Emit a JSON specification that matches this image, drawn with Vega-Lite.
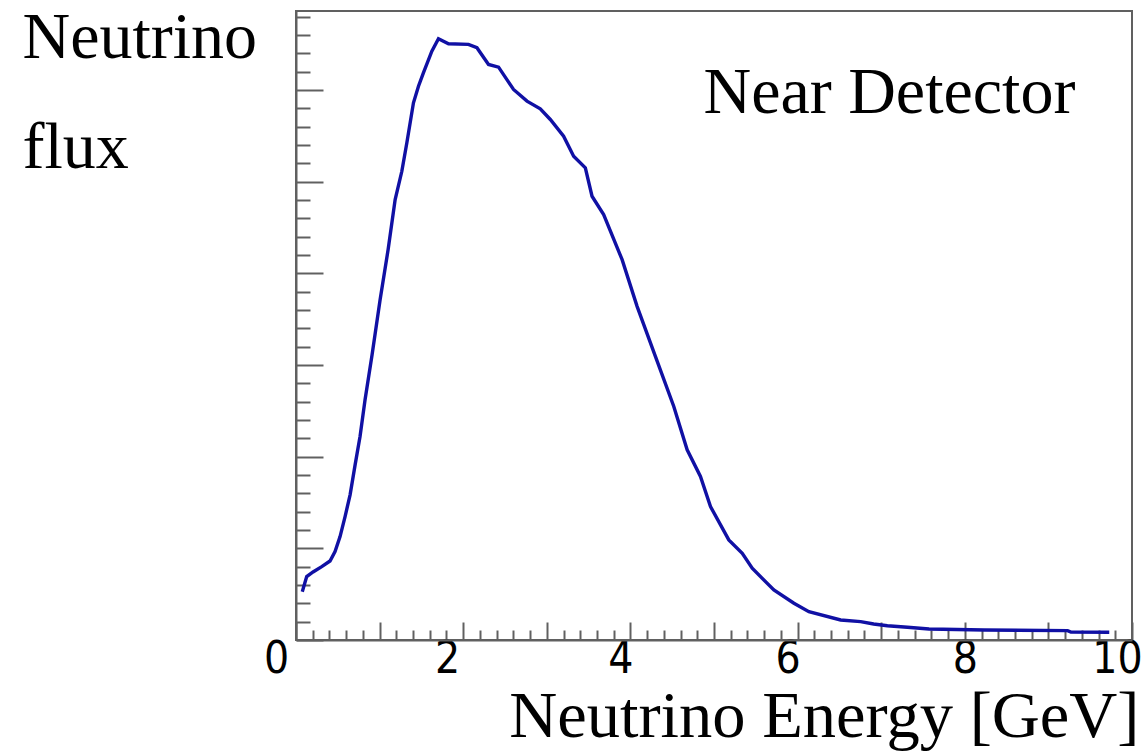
{
  "$schema": "https://vega.github.io/schema/vega-lite/v6.json",
  "width": 836,
  "height": 629,
  "autosize": "none",
  "padding": {"left": 296, "top": 11, "right": 16, "bottom": 115},
  "background": "white",
  "config": {"view": {"stroke": "#606060", "strokeWidth": 2}},
  "layer": [
    {
      "data": {"values": [
        {"energy": 0.075, "flux": 0.527},
        {"energy": 0.128, "flux": 0.691},
        {"energy": 0.204, "flux": 0.742},
        {"energy": 0.308, "flux": 0.800},
        {"energy": 0.407, "flux": 0.862},
        {"energy": 0.467, "flux": 0.964},
        {"energy": 0.527, "flux": 1.128},
        {"energy": 0.587, "flux": 1.346},
        {"energy": 0.647, "flux": 1.583},
        {"energy": 0.707, "flux": 1.910},
        {"energy": 0.766, "flux": 2.219},
        {"energy": 0.826, "flux": 2.620},
        {"energy": 0.910, "flux": 3.111},
        {"energy": 1.006, "flux": 3.712},
        {"energy": 1.102, "flux": 4.258},
        {"energy": 1.186, "flux": 4.803},
        {"energy": 1.266, "flux": 5.112},
        {"energy": 1.326, "flux": 5.423},
        {"energy": 1.405, "flux": 5.859},
        {"energy": 1.465, "flux": 6.040},
        {"energy": 1.525, "flux": 6.187},
        {"energy": 1.625, "flux": 6.422},
        {"energy": 1.704, "flux": 6.558},
        {"energy": 1.824, "flux": 6.503},
        {"energy": 2.063, "flux": 6.496},
        {"energy": 2.164, "flux": 6.460},
        {"energy": 2.303, "flux": 6.277},
        {"energy": 2.423, "flux": 6.248},
        {"energy": 2.602, "flux": 6.004},
        {"energy": 2.763, "flux": 5.877},
        {"energy": 2.922, "flux": 5.794},
        {"energy": 3.042, "flux": 5.677},
        {"energy": 3.201, "flux": 5.495},
        {"energy": 3.321, "flux": 5.276},
        {"energy": 3.461, "flux": 5.150},
        {"energy": 3.541, "flux": 4.840},
        {"energy": 3.680, "flux": 4.640},
        {"energy": 3.901, "flux": 4.148},
        {"energy": 4.080, "flux": 3.639},
        {"energy": 4.299, "flux": 3.093},
        {"energy": 4.519, "flux": 2.547},
        {"energy": 4.679, "flux": 2.074},
        {"energy": 4.838, "flux": 1.783},
        {"energy": 4.958, "flux": 1.455},
        {"energy": 5.177, "flux": 1.092},
        {"energy": 5.338, "flux": 0.946},
        {"energy": 5.457, "flux": 0.783},
        {"energy": 5.716, "flux": 0.546},
        {"energy": 5.956, "flux": 0.401},
        {"energy": 6.135, "flux": 0.309},
        {"energy": 6.515, "flux": 0.218},
        {"energy": 6.754, "flux": 0.200},
        {"energy": 6.910, "flux": 0.175},
        {"energy": 7.074, "flux": 0.156},
        {"energy": 7.314, "flux": 0.139},
        {"energy": 7.572, "flux": 0.120},
        {"energy": 8.231, "flux": 0.109},
        {"energy": 9.230, "flux": 0.102},
        {"energy": 9.269, "flux": 0.087},
        {"energy": 9.728, "flux": 0.084}
      ]},
      "mark": {"type": "line", "color": "#1010a4", "strokeWidth": 3.4, "interpolate": "linear"},
      "encoding": {
        "x": {
          "field": "energy", "type": "quantitative",
          "scale": {"domain": [0, 10], "nice": false, "zero": false},
          "axis": {
            "values": [0,0.2,0.4,0.6,0.8,1,1.2,1.4,1.6,1.8,2,2.2,2.4,2.6,2.8,3,3.2,3.4,3.6,3.8,4,4.2,4.4,4.6,4.8,5,5.2,5.4,5.6,5.8,6,6.2,6.4,6.6,6.8,7,7.2,7.4,7.6,7.8,8,8.2,8.4,8.6,8.8,9,9.2,9.4,9.6,9.8,10],
            "tickCount": 200,
            "grid": false,
            "domainColor": "#606060", "domainWidth": 2,
            "tickColor": "#606060", "tickWidth": 2,
            "tickSize": {"condition": {"test": "datum.value % 1 === 0", "value": -18}, "value": -10},
            "labelExpr": "datum.value % 2 === 0 ? '' + datum.value : ''",
            "labelFont": "Liberation Sans Narrow, DejaVu Sans Condensed, sans-serif",
            "labelFontSize": 44,
            "labelColor": "black",
            "labelBaseline": "top",
            "labelPadding": 15,
            "labelOverlap": false,
            "labelFlush": false,
            "labelBound": false,
            "labelOffset": {"condition": [
              {"test": "datum.value === 0", "value": -20},
              {"test": "datum.value === 2", "value": -16},
              {"test": "datum.value === 4", "value": -10},
              {"test": "datum.value === 6", "value": -10},
              {"test": "datum.value === 10", "value": -15}
            ], "value": 0},
            "title": "Neutrino Energy [GeV]",
            "titleFont": "Liberation Serif",
            "titleFontSize": 66.5,
            "titleFontWeight": "normal",
            "titleColor": "black",
            "titleAnchor": "end",
            "titleAlign": "right",
            "titleBaseline": "alphabetic",
            "titleX": 843,
            "titleY": 96
          }
        },
        "y": {
          "field": "flux", "type": "quantitative",
          "scale": {"domain": [0, 6.86], "nice": false, "zero": false},
          "axis": {
            "values": [0,0.2,0.4,0.6,0.8,1,1.2,1.4,1.6,1.8,2,2.2,2.4,2.6,2.8,3,3.2,3.4,3.6,3.8,4,4.2,4.4,4.6,4.8,5,5.2,5.4,5.6,5.8,6,6.2,6.4,6.6,6.8],
            "tickCount": 200,
            "grid": false,
            "labels": false,
            "domainColor": "#606060", "domainWidth": 2,
            "tickColor": "#606060", "tickWidth": 2,
            "tickSize": {"condition": {"test": "datum.value % 1 === 0", "value": -27}, "value": -14},
            "title": ["Neutrino", "flux"],
            "titleFont": "Liberation Serif",
            "titleFontSize": 66,
            "titleFontWeight": "normal",
            "titleColor": "black",
            "titleAngle": 0,
            "titleAlign": "left",
            "titleBaseline": "alphabetic",
            "titleLineHeight": 110,
            "titleX": -274,
            "titleY": 46
          }
        }
      }
    },
    {
      "data": {"values": [{"label": "Near Detector", "energy": 4.874, "flux": 5.75}]},
      "mark": {"type": "text", "font": "Liberation Serif", "fontSize": 66, "align": "left", "baseline": "alphabetic", "color": "black"},
      "encoding": {
        "x": {"field": "energy", "type": "quantitative"},
        "y": {"field": "flux", "type": "quantitative"},
        "text": {"field": "label"}
      }
    }
  ]
}
